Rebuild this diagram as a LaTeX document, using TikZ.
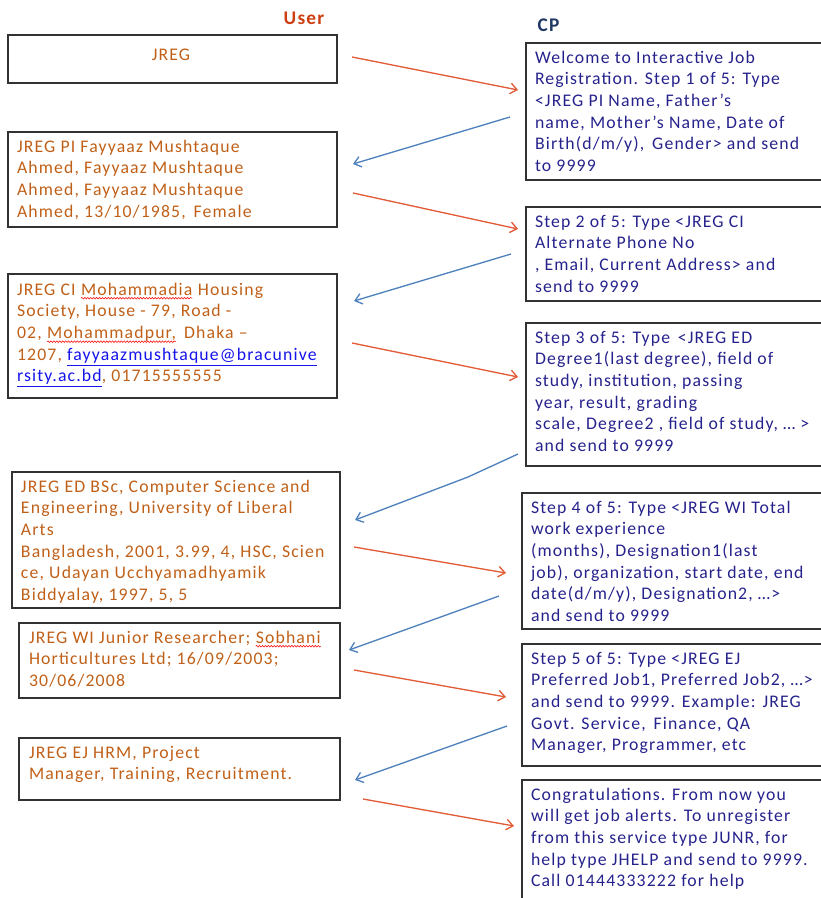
\documentclass[tikz,border=0pt]{standalone}
\usepackage{fontspec}
\setmainfont{Carlito}[LetterSpace=6.5]
\usetikzlibrary{arrows.meta,fit,decorations.pathmorphing}
\definecolor{ltxt}{RGB}{192,96,24}
\definecolor{rtxt}{RGB}{38,34,140}
\definecolor{userc}{RGB}{205,62,16}
\definecolor{cpc}{RGB}{31,56,100}
\definecolor{redarr}{RGB}{226,92,56}
\definecolor{bluearr}{RGB}{79,129,189}
\definecolor{linkc}{RGB}{20,20,235}
\definecolor{boxc}{RGB}{50,50,50}
\newcommand{\wavy}[1]{\tikz[baseline=(wv.base)]{\node[inner sep=0pt,outer sep=0pt,text=ltxt,font=\fontsize{13.3}{16.3}\selectfont](wv){#1};\draw[red,line width=0.4pt,decorate,decoration={snake,amplitude=0.6pt,segment length=2.2pt}] ([yshift=-2.4pt]wv.base west) -- ([yshift=-2.4pt]wv.base east);}}
\newcommand{\lnk}[1]{\textcolor{linkc}{\underline{#1}}}
\newcommand{\dsp}{\ \hspace{2pt}}
\tikzset{
  box/.style={draw=boxc,line width=1.1pt,inner sep=0pt,outer sep=0pt,rectangle},
  txt/.style={inner sep=0pt,outer sep=0pt,anchor=north west,align=left,font=\fontsize{13.3}{16.3}\selectfont},
  ltext/.style={txt,text=ltxt},
  rtext/.style={txt,text=rtxt},
  redarrow/.style={draw=redarr,line width=1pt,-{Straight Barb[length=5pt,width=8pt]}},
  bluearrow/.style={draw=bluearr,line width=1pt,-{Straight Barb[length=5pt,width=8pt]}},
}
\begin{document}
\begin{tikzpicture}[x=0.75pt,y=-0.75pt]
\useasboundingbox (0,0) rectangle (820,898);
% headings
\node[font=\fontsize{14.5}{16}\selectfont\bfseries,text=userc] (user) at (304,18) {User};
\node[font=\fontsize{14.5}{16}\selectfont\bfseries,text=cpc,anchor=west] (cp) at (533,25) {CP};
% left boxes
\node[box,fit={(8,35) (337,83)}] (u1) {};
\node[box,fit={(8,132) (337,227)}] (u2) {};
\node[box,fit={(8,274) (337,398)}] (u3) {};
\node[box,fit={(12,472) (340,608)}] (u4) {};
\node[box,fit={(19,623) (340,698)}] (u5) {};
\node[box,fit={(19,738) (340,800)}] (u6) {};
% right boxes
\node[box,fit={(526,43) (830,180)}] (c1) {};
\node[box,fit={(526,207) (830,301)}] (c2) {};
\node[box,fit={(526,323) (830,466)}] (c3) {};
\node[box,fit={(522,493) (830,629)}] (c4) {};
\node[box,fit={(522,644) (830,766)}] (c5) {};
\node[box,fit={(522,780) (830,910)}] (c6) {};
% left texts
\node[ltext,anchor=base] (t1) at (171,61) {JREG};
\node[ltext] (t2) at ([shift={(9,4.8)}]u2.north west) {\strut JREG PI Fayyaaz Mushtaque\\Ahmed, Fayyaaz Mushtaque\\Ahmed, Fayyaaz Mushtaque\\Ahmed, 13/10/1985,\dsp Female};
\node[ltext] (t3) at ([shift={(9,5.8)}]u3.north west) {\strut JREG CI \wavy{Mohammadia} Housing\\Society, House - 79, Road -\\02, \wavy{Mohammadpur,}\dsp Dhaka –\\1207, \lnk{fayyaazmushtaque@bracunive}\\\lnk{rsity.ac.bd}, 01715555555};
\node[ltext] (t4) at ([shift={(9,4.8)}]u4.north west) {\strut JREG ED BSc, Computer Science and\\Engineering, University of Liberal\\Arts\\Bangladesh, 2001, 3.99, 4, HSC, Scien\\ce, Udayan Ucchyamadhyamik\\Biddyalay, 1997, 5, 5};
\node[ltext] (t5) at ([shift={(10,4.8)}]u5.north west) {\strut JREG WI Junior Researcher; \wavy{Sobhani}\\Horticultures Ltd; 16/09/2003;\\30/06/2008};
\node[ltext] (t6) at ([shift={(10,4.8)}]u6.north west) {\strut JREG EJ HRM, Project\\Manager, Training, Recruitment.};
% right texts
\node[rtext] (r1) at ([shift={(9,4.8)}]c1.north west) {\strut Welcome to Interactive Job\\Registration. Step 1 of 5: Type\\<JREG PI Name, Father’s\\name, Mother’s Name, Date of\\Birth(d/m/y),\dsp Gender> and send\\to 9999};
\node[rtext] (r2) at ([shift={(9,4.8)}]c2.north west) {\strut Step 2 of 5: Type <JREG CI\\Alternate Phone No\\, Email, Current Address> and\\send to 9999};
\node[rtext] (r3) at ([shift={(9,4.8)}]c3.north west) {\strut Step 3 of 5: Type\dsp <JREG ED\\Degree1(last degree), field of\\study, institution, passing\\year, result, grading\\scale, Degree2 , field of study, … >\\and send to 9999};
\node[rtext] (r4) at ([shift={(9,4.8)}]c4.north west) {\strut Step 4 of 5: Type <JREG WI Total\\work experience\\(months), Designation1(last\\job), organization, start date, end\\date(d/m/y), Designation2, …>\\and send to 9999};
\node[rtext] (r5) at ([shift={(9,4.8)}]c5.north west) {\strut Step 5 of 5: Type <JREG EJ\\Preferred Job1, Preferred Job2, …>\\and send to 9999. Example: JREG\\Govt. Service,\dsp Finance, QA\\Manager, Programmer, etc};
\node[rtext] (r6) at ([shift={(9,4.8)}]c6.north west) {\strut Congratulations. From now you\\will get job alerts. To unregister\\from this service type JUNR, for\\help type JHELP and send to 9999.\\Call 01444333222 for help};
% arrow end points
\coordinate (a1s) at (352,57);  \coordinate (a1e) at (518,90);
\coordinate (b1s) at (510,117); \coordinate (b1e) at (353,164);
\coordinate (a2s) at (353,193); \coordinate (a2e) at (518,229);
\coordinate (b2s) at (511,254); \coordinate (b2e) at (354,301);
\coordinate (a3s) at (352,343); \coordinate (a3e) at (518,377);
\coordinate (b3s) at (518,454); \coordinate (b3k) at (468,477); \coordinate (b3e) at (355,520);
\coordinate (a4s) at (354,547); \coordinate (a4e) at (506,573);
\coordinate (b4s) at (499,596); \coordinate (b4e) at (349,650);
\coordinate (a5s) at (354,670); \coordinate (a5e) at (506,697);
\coordinate (b5s) at (507,726); \coordinate (b5e) at (355,780);
\coordinate (a6s) at (363,799); \coordinate (a6e) at (514,826);
\draw[redarrow] (a1s) -- (a1e);
\draw[bluearrow] (b1s) -- (b1e);
\draw[redarrow] (a2s) -- (a2e);
\draw[bluearrow] (b2s) -- (b2e);
\draw[redarrow] (a3s) -- (a3e);
\draw[bluearrow] (b3s) -- (b3k) -- (b3e);
\draw[redarrow] (a4s) -- (a4e);
\draw[bluearrow] (b4s) -- (b4e);
\draw[redarrow] (a5s) -- (a5e);
\draw[bluearrow] (b5s) -- (b5e);
\draw[redarrow] (a6s) -- (a6e);
\end{tikzpicture}
\end{document}
